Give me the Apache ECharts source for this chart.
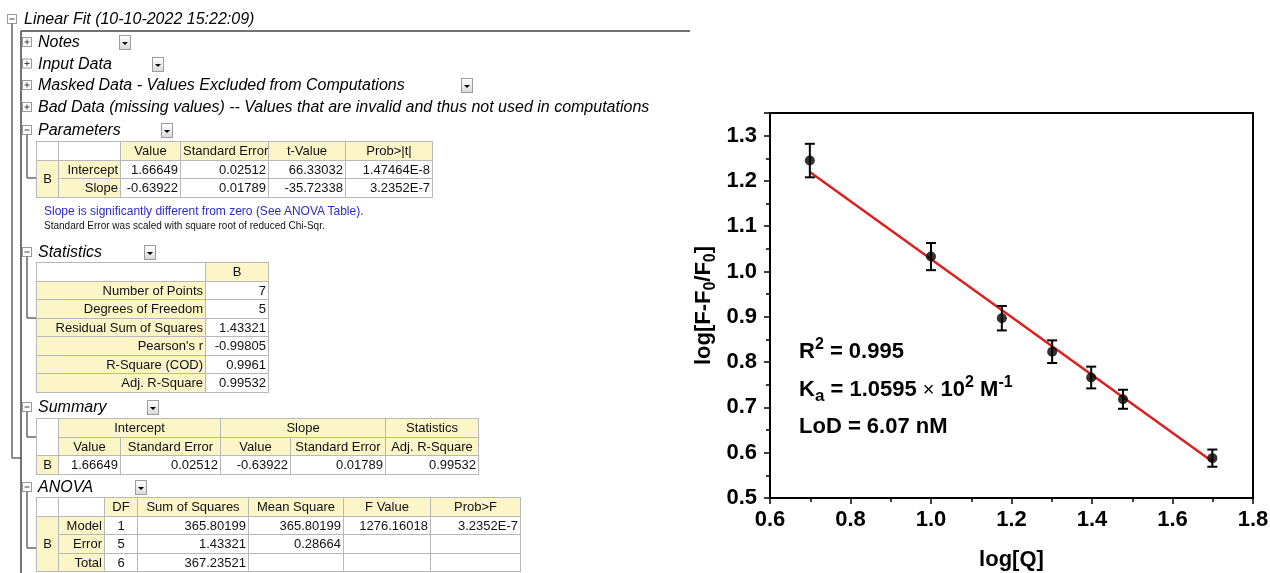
<!DOCTYPE html>
<html>
<head>
<meta charset="utf-8">
<script src="https://cdn.jsdelivr.net/npm/echarts@6/dist/echarts.min.js"></script>
<style>
  html, body { margin: 0; padding: 0; background: #fff; }
  #wrap { position: relative; width: 1270px; height: 573px; overflow: hidden;
          font-family: Arial, 'Liberation Sans', sans-serif; }
  #chart { position: absolute; left: 0; top: 0; width: 1270px; height: 573px; }
  #report { position: absolute; left: 0; top: 0; width: 700px; height: 573px; z-index: 2; }
  #tree { position: absolute; left: 0; top: 0; }
  .head { position: absolute; font-style: italic; font-size: 16px; line-height: 18px;
          white-space: nowrap; color: #000; }
  .drop { position: absolute; width: 10px; height: 13px; border: 1px solid #9c9c9c;
          background: linear-gradient(#fefefe, #dadada); }
  .drop:after { content: ''; position: absolute; left: 2px; top: 6px;
          border-left: 3px solid transparent; border-right: 3px solid transparent;
          border-top: 3px solid #000; }
  table.rt { position: absolute; border-collapse: collapse; table-layout: fixed;
          border: 1px solid #222; font-size: 13px; color: #111; }
  table.rt tr { height: 18.5px; }
  table.rt td { border: 1px solid #b8b8b8; padding: 0 2px; white-space: nowrap;
          overflow: hidden; line-height: 15px; text-align: right; }
  table.rt td.y { background: #fbf5c7; }
  table.rt td.c { text-align: center; }
  .note1 { position: absolute; left: 44px; top: 204px; font-size: 12px; color: #2b2bc4; white-space: nowrap; }
  .note2 { position: absolute; left: 44px; top: 220px; font-size: 10px; color: #111; white-space: nowrap; }
</style>
</head>
<body>
<div id="wrap">
  <div id="chart"></div>
  <div id="report"></div>
</div>
<script>
// ---- Fit report contents ----
const reportTitle = 'Linear Fit (10-10-2022 15:22:09)';
const collapsedSections = ['Notes', 'Input Data', 'Masked Data - Values Excluded from Computations',
  'Bad Data (missing values) -- Values that are invalid and thus not used in computations'];

const paramHeaders = ['Value', 'Standard Error', 't-Value', 'Prob>|t|'];
const paramNames = ['Intercept', 'Slope'];
const paramValues = [
  ['1.66649', '0.02512', '66.33032', '1.47464E-8'],
  ['-0.63922', '0.01789', '-35.72338', '3.2352E-7']
];
const paramNote = 'Slope is significantly different from zero (See ANOVA Table).';
const errorNote = 'Standard Error was scaled with square root of reduced Chi-Sqr.';

const statNames = ['Number of Points', 'Degrees of Freedom', 'Residual Sum of Squares',
  "Pearson's r", 'R-Square (COD)', 'Adj. R-Square'];
const statValues = ['7', '5', '1.43321', '-0.99805', '0.9961', '0.99532'];

const summaryGroups = ['Intercept', 'Slope', 'Statistics'];
const summaryHeaders = ['Value', 'Standard Error', 'Value', 'Standard Error', 'Adj. R-Square'];
const summaryValues = ['1.66649', '0.02512', '-0.63922', '0.01789', '0.99532'];

const anovaHeaders = ['DF', 'Sum of Squares', 'Mean Square', 'F Value', 'Prob>F'];
const anovaNames = ['Model', 'Error', 'Total'];
const anovaValues = [
  ['1', '365.80199', '365.80199', '1276.16018', '3.2352E-7'],
  ['5', '1.43321', '0.28664', '', ''],
  ['6', '367.23521', '', '', '']
];

// ---- Plot data ----
const logQ = [0.699, 1.0, 1.176, 1.301, 1.398, 1.477, 1.699];
const logRatio = [1.245, 1.033, 0.897, 0.823, 0.766, 0.718, 0.588];
const errBar = [0.037, 0.030, 0.027, 0.025, 0.024, 0.021, 0.019];
// fitted line endpoints (Intercept 1.66649, Slope -0.63922)
const fitX = [0.699, 1.699];
const fitY = [1.2197, 0.5805];

// ---------------- report (left panel) ----------------
const report = document.getElementById('report');
const svgNS = 'http://www.w3.org/2000/svg';
const svg = document.createElementNS(svgNS, 'svg');
svg.setAttribute('id', 'tree');
svg.setAttribute('width', 700);
svg.setAttribute('height', 573);
report.appendChild(svg);

function line(x1, y1, x2, y2, color, w) {
  const l = document.createElementNS(svgNS, 'line');
  l.setAttribute('x1', x1); l.setAttribute('y1', y1);
  l.setAttribute('x2', x2); l.setAttribute('y2', y2);
  l.setAttribute('stroke', color || '#555');
  l.setAttribute('stroke-width', w || 1.5);
  svg.appendChild(l);
}
function icon(cx, cy, plus) {
  const r = document.createElementNS(svgNS, 'rect');
  r.setAttribute('x', cx - 4.5); r.setAttribute('y', cy - 4.5);
  r.setAttribute('width', 9); r.setAttribute('height', 9);
  r.setAttribute('fill', '#fff'); r.setAttribute('stroke', '#9a9a9a');
  svg.appendChild(r);
  line(cx - 2.5, cy, cx + 2.5, cy, '#444', 1);
  if (plus) line(cx, cy - 2.5, cx, cy + 2.5, '#444', 1);
}
function heading(text, x, cy, dropX) {
  const d = document.createElement('div');
  d.className = 'head';
  d.style.left = x + 'px';
  d.style.top = (cy - 9) + 'px';
  d.textContent = text;
  report.appendChild(d);
  if (dropX != null) {
    const b = document.createElement('div');
    b.className = 'drop';
    b.style.left = dropX + 'px';
    b.style.top = (cy - 7) + 'px';
    report.appendChild(b);
  }
}
function cell(tr, text, cls, attrs) {
  const td = document.createElement('td');
  td.textContent = text;
  if (cls) td.className = cls;
  if (attrs) for (const k in attrs) td.setAttribute(k, attrs[k]);
  tr.appendChild(td);
  return td;
}
function table(left, top, widths) {
  const t = document.createElement('table');
  t.className = 'rt';
  t.style.left = left + 'px';
  t.style.top = top + 'px';
  t.style.width = widths.reduce((a, b) => a + b, 0) + 'px';
  const cg = document.createElement('colgroup');
  widths.forEach(w => { const c = document.createElement('col'); c.style.width = w + 'px'; cg.appendChild(c); });
  t.appendChild(cg);
  const body = document.createElement('tbody');
  t.appendChild(body);
  report.appendChild(t);
  return body;
}
function row(body) { const tr = document.createElement('tr'); body.appendChild(tr); return tr; }

// frame and tree lines
icon(12, 19, false);
heading(reportTitle, 24, 19);
line(12, 23.5, 12, 458, '#666', 1.5);
line(12, 458, 21, 458, '#666', 1.5);
line(21, 31, 690, 31, '#444', 1.5);
line(21, 31, 21, 573, '#444', 1.5);

const collapsedY = [42, 63.5, 85, 107];
const collapsedDrop = [119, 152, 461, null];
collapsedSections.forEach((s, i) => {
  icon(27, collapsedY[i], true);
  heading(s, 38, collapsedY[i], collapsedDrop[i]);
});

// Parameters
icon(27, 130, false);
heading('Parameters', 38, 130, 161);
line(27, 134.5, 27, 178, '#666', 1.5);
line(27, 178, 36, 178, '#666', 1.5);
{
  const b = table(36, 141, [22, 62, 60, 88, 77, 87]);
  let tr = row(b);
  cell(tr, '', ''); cell(tr, '', '');
  paramHeaders.forEach(h => cell(tr, h, 'y c'));
  paramNames.forEach((n, i) => {
    tr = row(b);
    if (i === 0) cell(tr, 'B', 'y c', { rowspan: paramNames.length });
    cell(tr, n, 'y');
    paramValues[i].forEach(v => cell(tr, v, ''));
  });
}
{
  const n1 = document.createElement('div'); n1.className = 'note1'; n1.textContent = paramNote; report.appendChild(n1);
  const n2 = document.createElement('div'); n2.className = 'note2'; n2.textContent = errorNote; report.appendChild(n2);
}

// Statistics
icon(27, 252, false);
heading('Statistics', 38, 252, 144);
line(27, 256.5, 27, 318, '#666', 1.5);
line(27, 318, 36, 318, '#666', 1.5);
{
  const b = table(36, 262, [169, 63]);
  let tr = row(b);
  cell(tr, '', ''); cell(tr, 'B', 'y c');
  statNames.forEach((n, i) => {
    tr = row(b);
    cell(tr, n, 'y');
    cell(tr, statValues[i], '');
  });
}

// Summary
icon(27, 407, false);
heading('Summary', 38, 407, 147);
line(27, 411.5, 27, 437, '#666', 1.5);
line(27, 437, 36, 437, '#666', 1.5);
{
  const b = table(36, 418, [22, 62, 100, 70, 95, 93]);
  let tr = row(b);
  cell(tr, '', '', { rowspan: 2 });
  cell(tr, summaryGroups[0], 'y c', { colspan: 2 });
  cell(tr, summaryGroups[1], 'y c', { colspan: 2 });
  cell(tr, summaryGroups[2], 'y c');
  tr = row(b);
  summaryHeaders.forEach(h => cell(tr, h, 'y c'));
  tr = row(b);
  cell(tr, 'B', 'y c');
  summaryValues.forEach(v => cell(tr, v, ''));
}

// ANOVA
icon(27, 487, false);
heading('ANOVA', 38, 487, 135);
line(27, 491.5, 27, 548, '#666', 1.5);
line(27, 548, 36, 548, '#666', 1.5);
{
  const b = table(36, 497, [22, 46, 33, 111, 95, 87, 90]);
  let tr = row(b);
  cell(tr, '', ''); cell(tr, '', '');
  anovaHeaders.forEach(h => cell(tr, h, 'y c'));
  anovaNames.forEach((n, i) => {
    tr = row(b);
    if (i === 0) cell(tr, 'B', 'y c', { rowspan: anovaNames.length });
    cell(tr, n, 'y');
    anovaValues[i].forEach((v, j) => cell(tr, v, j === 0 ? 'c' : ''));
  });
}

// ---------------- chart (right panel) ----------------
const chart = echarts.init(document.getElementById('chart'), null, { renderer: 'canvas' });
const FONT = 'Arial, "Liberation Sans", sans-serif';
const labelStyle = { fontFamily: FONT, fontSize: 22, fontWeight: 'bold', color: '#000' };

const points = logQ.map((x, i) => [x, logRatio[i], errBar[i]]);
const fitLine = fitX.map((x, i) => [x, fitY[i]]);

chart.setOption({
  backgroundColor: '#fff',
  animation: false,
  grid: {
    left: 770, right: 17, top: 113, bottom: 75,
    show: true, borderColor: '#000', borderWidth: 2, backgroundColor: 'transparent',
    outerBoundsMode: 'none'
  },
  xAxis: {
    type: 'value', min: 0.6, max: 1.8, interval: 0.2,
    name: 'log[Q]', nameLocation: 'middle', nameGap: 51,
    nameTextStyle: labelStyle,
    axisLine: { show: true, lineStyle: { color: '#000', width: 2 } },
    axisTick: { show: true, inside: false, length: 6, lineStyle: { color: '#000', width: 1.5 } },
    minorTick: { show: true, splitNumber: 2, length: 4, lineStyle: { color: '#000', width: 1.5 } },
    splitLine: { show: false },
    axisLabel: Object.assign({ margin: 11, formatter: v => v.toFixed(1) }, labelStyle)
  },
  yAxis: {
    type: 'value', min: 0.5, max: 1.35, interval: 0.1,
    name: '{m|log[F-F}{s|0}{m|/F}{s|0}{m|]}',
    nameLocation: 'middle', nameGap: 51, nameRotate: 90,
    nameTextStyle: {
      rich: {
        m: { fontFamily: FONT, fontSize: 22, fontWeight: 'bold', color: '#000', lineHeight: 30 },
        s: { fontFamily: FONT, fontSize: 16, fontWeight: 'bold', color: '#000', lineHeight: 30, verticalAlign: 'bottom' }
      }
    },
    axisLine: { show: true, lineStyle: { color: '#000', width: 2 } },
    axisTick: { show: true, inside: false, length: 6, lineStyle: { color: '#000', width: 1.5 } },
    minorTick: { show: true, splitNumber: 2, length: 4, lineStyle: { color: '#000', width: 1.5 } },
    splitLine: { show: false },
    axisLabel: Object.assign({ margin: 13, showMaxLabel: false, formatter: v => v.toFixed(1) }, labelStyle)
  },
  series: [
    {
      type: 'line', data: fitLine, showSymbol: false, symbol: 'none', z: 2,
      lineStyle: { color: '#dc1f1f', width: 2.5 }, silent: true
    },
    {
      type: 'custom', data: points, encode: { x: 0, y: 1 }, z: 3, silent: true,
      renderItem(params, api) {
        const x = api.value(0), y = api.value(1), e = api.value(2);
        const hi = api.coord([x, y + e]);
        const lo = api.coord([x, y - e]);
        const w = 5;
        const st = { stroke: '#000', lineWidth: 2 };
        return {
          type: 'group', children: [
            { type: 'line', shape: { x1: hi[0], y1: hi[1], x2: lo[0], y2: lo[1] }, style: st },
            { type: 'line', shape: { x1: hi[0] - w, y1: hi[1], x2: hi[0] + w, y2: hi[1] }, style: st },
            { type: 'line', shape: { x1: lo[0] - w, y1: lo[1], x2: lo[0] + w, y2: lo[1] }, style: st }
          ]
        };
      }
    },
    {
      type: 'scatter', data: points, encode: { x: 0, y: 1 }, symbol: 'circle', symbolSize: 10, z: 4,
      itemStyle: { color: '#000' }, silent: true
    }
  ],
  graphic: [
    {
      type: 'text', left: 799, top: 337, silent: true,
      style: {
        text: '{m|R}{p|2}{m| = 0.995}',
        rich: {
          m: { fontFamily: FONT, fontSize: 22, fontWeight: 'bold', fill: '#000', lineHeight: 30 },
          p: { fontFamily: FONT, fontSize: 16, fontWeight: 'bold', fill: '#000', lineHeight: 30, verticalAlign: 'top' }
        }
      }
    },
    {
      type: 'text', left: 799, top: 375, silent: true,
      style: {
        text: '{m|K}{b|a}{m| = 1.0595 }{x|×}{m| 10}{p|2}{m| M}{p|-1}',
        rich: {
          m: { fontFamily: FONT, fontSize: 22, fontWeight: 'bold', fill: '#000', lineHeight: 30 },
          x: { fontFamily: FONT, fontSize: 20, fontWeight: 'normal', fill: '#000', lineHeight: 30 },
          b: { fontFamily: FONT, fontSize: 17, fontWeight: 'bold', fill: '#000', lineHeight: 30, verticalAlign: 'bottom' },
          p: { fontFamily: FONT, fontSize: 16, fontWeight: 'bold', fill: '#000', lineHeight: 30, verticalAlign: 'top' }
        }
      }
    },
    {
      type: 'text', left: 799, top: 412, silent: true,
      style: {
        text: 'LoD = 6.07 nM',
        fontFamily: FONT, fontSize: 22, fontWeight: 'bold', fill: '#000', lineHeight: 30
      }
    }
  ]
});
</script>
</body>
</html>
